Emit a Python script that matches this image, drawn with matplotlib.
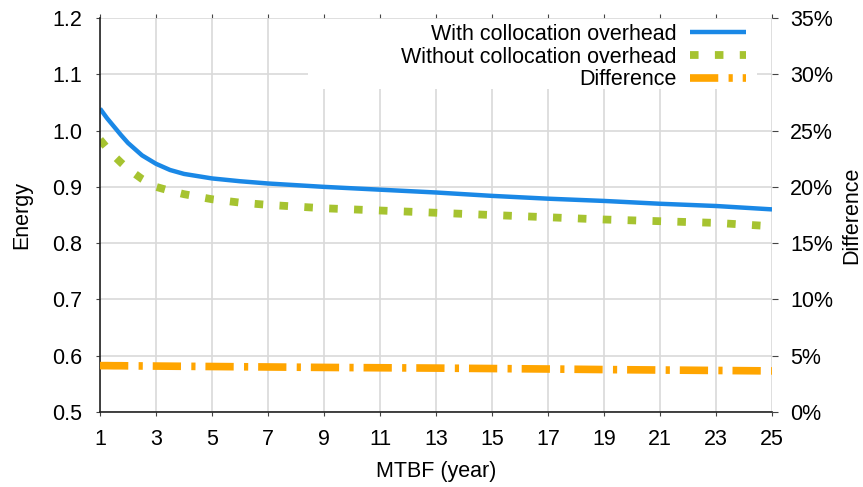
import numpy as np
import matplotlib.pyplot as plt
from matplotlib.patches import Rectangle
from matplotlib.ticker import FuncFormatter

plt.rcParams['font.family'] = ['Liberation Sans', 'DejaVu Sans']

#values
mtbf = [1, 1.25, 1.5, 1.75, 2, 2.5, 3, 3.5, 4, 5, 6, 7, 8, 9, 11, 13, 15, 17, 19, 21, 23, 25]
with_overhead = [1.039, 1.022, 1.007, 0.992, 0.978, 0.956, 0.941, 0.930, 0.923, 0.915, 0.910, 0.906,
                 0.903, 0.900, 0.895, 0.890, 0.884, 0.879, 0.875, 0.870, 0.866, 0.860]
without_overhead = [0.984, 0.969, 0.955, 0.943, 0.932, 0.914, 0.900, 0.893, 0.887, 0.878, 0.872, 0.868,
                    0.865, 0.862, 0.858, 0.854, 0.850, 0.846, 0.842, 0.839, 0.836, 0.830]
difference = [4.12, 4.12, 4.11, 4.11, 4.10, 4.09, 4.08, 4.07, 4.06, 4.04, 4.02, 4.0,
              3.98, 3.96, 3.93, 3.90, 3.86, 3.82, 3.77, 3.73, 3.69, 3.65]

xticks = list(range(1, 26, 2))
yticks = [0.5, 0.6, 0.7, 0.8, 0.9, 1.0, 1.1, 1.2]
y2ticks = [0, 5, 10, 15, 20, 25, 30, 35]

blue = '#1a88e6'
green = '#a6c330'
orange = '#ffa500'
fs = 15.5

fig = plt.figure(figsize=(8.63, 4.87), dpi=100)
ax = fig.add_axes([0.1159, 0.154, 0.7787, 0.809])
ax2 = ax.twinx()

l1, = ax.plot(mtbf, with_overhead, color=blue, lw=3.2, solid_capstyle='butt',
              label='With collocation overhead')
l2, = ax.plot(mtbf, without_overhead, color=green, lw=5.6, dashes=(1.1, 2.1),
              label='Without collocation overhead')
l3, = ax2.plot(mtbf, difference, color=orange, lw=5.5, dashes=(3.7, 1.35, 0.55, 1.3),
               label='Difference')

ax.set_xlim(1, 25)
ax.set_ylim(0.5, 1.2)
ax2.set_ylim(0, 35)
ax.set_xticks(xticks)
ax.set_yticks(yticks)
ax2.set_yticks(y2ticks)
ax.yaxis.set_major_formatter(FuncFormatter(lambda v, p: f'{v:.1f}'))
ax2.yaxis.set_major_formatter(FuncFormatter(lambda v, p: f'{v:.0f}%'))

ax.grid(True, color='#d9d9d9', lw=1.2)
ax.set_axisbelow(True)

for a in (ax, ax2):
    a.spines['top'].set_visible(False)
    a.spines['right'].set_visible(False)
ax2.spines['left'].set_visible(False)
ax2.spines['bottom'].set_visible(False)
for s in ('left', 'bottom'):
    ax.spines[s].set_color('#222222')
    ax.spines[s].set_linewidth(1.2)

ax.tick_params(axis='x', direction='out', top=True, length=3, labelsize=fs, pad=9, color='#444444')
ax.tick_params(axis='y', direction='out', length=3, labelsize=fs, pad=10, color='#444444')
ax2.tick_params(axis='y', direction='out', length=4, labelsize=fs, pad=9, color='#444444')

ax.set_xlabel('MTBF (year)', fontsize=fs, labelpad=8)
ax.set_ylabel('Energy', fontsize=fs, labelpad=14)
ax2.set_ylabel('Difference', fontsize=fs, labelpad=6)

#white key box like gnuplot's
ax2.add_patch(Rectangle((0.3095, 0.82), 0.6685, 0.177, transform=ax2.transAxes,
                        facecolor='white', edgecolor='none', zorder=3))
leg = ax2.legend(handles=[l1, l2, l3], loc='upper right', bbox_to_anchor=(0.961, 0.985),
                 fontsize=fs, markerfirst=False, alignment='right', frameon=False,
                 handlelength=2.6, handletextpad=0.6, labelspacing=0.08,
                 borderpad=0, borderaxespad=0)
leg.set_zorder(4)

fig.savefig('out.png', dpi=100)
